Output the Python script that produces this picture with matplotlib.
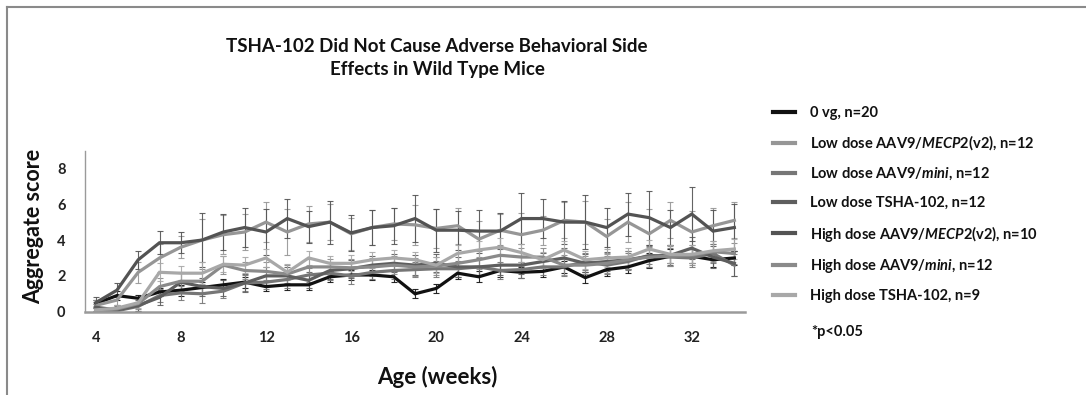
import matplotlib
matplotlib.use("Agg")
import matplotlib.pyplot as plt
from matplotlib.lines import Line2D

plt.rcParams['font.family'] = ['Lato', 'DejaVu Sans']
plt.rcParams['font.weight'] = 'bold'
plt.rcParams['mathtext.fontset'] = 'custom'
plt.rcParams['mathtext.rm'] = 'Lato:bold'
plt.rcParams['mathtext.it'] = 'Lato:bold:italic'

weeks = list(range(4, 35))
x_ticks = [4, 8, 12, 16, 20, 24, 28, 32]
y_ticks = [0, 2, 4, 6, 8]

labels = [
    "0 vg, n=20",
    r"Low dose AAV9/$\mathit{MECP2}$(v2), n=12",
    r"Low dose AAV9/$\mathit{mini}$, n=12",
    "Low dose TSHA-102, n=12",
    r"High dose AAV9/$\mathit{MECP2}$(v2), n=10",
    r"High dose AAV9/$\mathit{mini}$, n=12",
    "High dose TSHA-102, n=9",
]

zero_vg = [0.45, 0.9, 0.75, 1.1, 1.2, 1.35, 1.5, 1.65, 1.4, 1.5, 1.5,
           1.95, 2.05, 2.05, 1.95, 1.0, 1.3, 2.15, 1.95, 2.3, 2.2,
           2.25, 2.5, 1.9, 2.35, 2.5, 2.85, 3.1, 3.1, 2.9, 3.0]
low_mecp2 = [0.35, 0.65, 2.2, 3.0, 3.6, 4.0, 4.3, 4.45, 5.0, 4.45, 4.9,
             5.0, 4.35, 4.7, 4.9, 4.85, 4.65, 4.8, 4.05, 4.55, 4.3,
             4.55, 5.1, 5.0, 4.2, 5.0, 4.35, 5.1, 4.45, 4.8, 5.1]
low_mini = [0.1, 0.05, 0.3, 0.9, 1.05, 1.0, 1.15, 1.6, 1.65, 1.8, 2.05,
            2.15, 2.0, 2.2, 2.3, 2.35, 2.4, 2.4, 2.5, 2.3, 2.35,
            2.5, 2.5, 2.8, 2.6, 2.8, 3.15, 3.05, 3.0, 3.25, 2.6]
low_tsha = [0.25, 0.1, 0.35, 0.8, 1.65, 1.4, 1.3, 1.6, 2.0, 2.0, 1.75,
            2.3, 2.4, 2.6, 2.7, 2.6, 2.7, 2.5, 2.5, 2.6, 2.6,
            2.8, 3.0, 2.7, 2.8, 2.9, 3.1, 3.15, 3.55, 3.05, 2.7]
high_mecp2 = [0.5, 1.2, 2.9, 3.85, 3.85, 4.0, 4.45, 4.7, 4.45, 5.2, 4.75,
              5.0, 4.4, 4.7, 4.8, 5.2, 4.55, 4.55, 4.5, 4.5, 5.2,
              5.2, 5.0, 5.0, 4.7, 5.45, 5.25, 4.7, 5.45, 4.5, 4.7]
high_mini = [0.05, 0.15, 0.45, 1.4, 1.7, 1.7, 2.6, 2.3, 2.25, 2.1, 2.5,
             2.5, 2.45, 2.5, 2.6, 2.5, 2.55, 2.7, 2.9, 3.15, 3.05,
             3.05, 2.6, 2.6, 2.7, 2.9, 3.05, 3.1, 3.15, 3.35, 3.25]
high_tsha = [0.1, 0.2, 0.5, 2.2, 2.15, 2.15, 2.65, 2.6, 3.0, 2.2, 3.0,
             2.7, 2.7, 2.9, 3.0, 2.9, 2.6, 3.25, 3.45, 3.6, 3.3,
             2.9, 3.45, 2.9, 3.0, 3.05, 3.5, 3.2, 3.2, 3.4, 3.5]

zero_vg_err = [0.2, 0.25, 0.2, 0.25, 0.3, 0.3, 0.3, 0.3, 0.25, 0.3, 0.3,
               0.3, 0.3, 0.3, 0.3, 0.25, 0.25, 0.35, 0.3, 0.35, 0.3,
               0.3, 0.35, 0.3, 0.35, 0.35, 0.4, 0.4, 0.4, 0.4, 0.4]
low_mecp2_err = [0.3, 0.3, 0.6, 0.8, 0.6, 1.2, 1.1, 1.0, 1.1, 1.3, 1.0,
                 1.0, 0.9, 1.0, 0.9, 1.1, 1.1, 1.0, 1.0, 0.9, 1.2,
                 0.8, 1.0, 1.2, 1.0, 1.1, 1.4, 1.0, 1.2, 1.0, 1.0]
low_mini_err = [0.2, 0.2, 0.25, 0.35, 0.4, 0.5, 0.4, 0.45, 0.4, 0.45, 0.4,
                0.4, 0.45, 0.4, 0.45, 0.4, 0.45, 0.45, 0.45, 0.5, 0.45,
                0.45, 0.5, 0.45, 0.5, 0.45, 0.5, 0.5, 0.5, 0.55, 0.6]
low_tsha_err = [0.2, 0.2, 0.3, 0.4, 0.5, 0.5, 0.45, 0.5, 0.5, 0.5, 0.45,
                0.45, 0.5, 0.5, 0.5, 0.55, 0.5, 0.55, 0.5, 0.55, 0.5,
                0.5, 0.55, 0.5, 0.55, 0.5, 0.6, 0.55, 0.6, 0.6, 0.7]
high_mecp2_err = [0.3, 0.4, 0.5, 0.65, 0.6, 1.5, 1.0, 1.1, 1.3, 1.1, 0.9,
                  1.2, 1.0, 1.0, 1.0, 1.3, 1.2, 1.1, 1.2, 1.0, 1.4,
                  1.1, 1.2, 1.5, 1.1, 1.2, 1.5, 1.0, 1.5, 1.2, 1.3]
high_mini_err = [0.15, 0.2, 0.3, 0.5, 0.5, 0.7, 0.5, 0.5, 0.5, 0.5, 0.45,
                 0.45, 0.5, 0.5, 0.5, 0.5, 0.5, 0.55, 0.5, 0.55, 0.5,
                 0.5, 0.55, 0.5, 0.55, 0.5, 0.55, 0.55, 0.55, 0.6, 0.6]
high_tsha_err = [0.15, 0.2, 0.3, 0.5, 0.4, 0.6, 0.45, 0.45, 0.5, 0.45, 0.4,
                 0.4, 0.45, 0.45, 0.45, 0.45, 0.45, 0.5, 0.5, 0.5, 0.5,
                 0.45, 0.5, 0.5, 0.5, 0.5, 0.5, 0.5, 0.5, 0.55, 0.55]

series = [zero_vg, low_mecp2, low_mini, low_tsha, high_mecp2, high_mini, high_tsha]
errors = [zero_vg_err, low_mecp2_err, low_mini_err, low_tsha_err,
          high_mecp2_err, high_mini_err, high_tsha_err]
colors = ['#111111', '#969696', '#767676', '#5e5e5e', '#535353', '#8a8a8a', '#a8a8a8']

W, H = 1086, 395
fig = plt.figure(figsize=(W / 100, H / 100), dpi=100)
ax = fig.add_axes([85 / W, 1 - 311.7 / H, (745 - 85) / W, (311.7 - 150.5) / H])

for vals, err, col in zip(series, errors, colors):
    ax.errorbar(weeks, vals, yerr=err, fmt='none', ecolor=col, elinewidth=0.8,
                capsize=2.2, capthick=0.8, alpha=0.9)
for vals, col in zip(series, colors):
    ax.plot(weeks, vals, color=col, lw=2.3, solid_joinstyle='miter')

ax.set_xlim(3.5, 34.5)
ax.set_ylim(0, 9)
ax.set_xticks(x_ticks)
ax.set_xticklabels([str(t) for t in x_ticks])
ax.set_yticks(y_ticks)
ax.set_yticklabels([str(t) for t in y_ticks])
ax.tick_params(axis='both', length=0, labelsize=10.5, colors='#222222')
ax.tick_params(axis='x', pad=14)
ax.tick_params(axis='y', pad=14)
for lab in ax.get_xticklabels() + ax.get_yticklabels():
    lab.set_fontweight('bold')
for s in ['top', 'right']:
    ax.spines[s].set_visible(False)
ax.spines['bottom'].set_color('#9a9a9a')
ax.spines['bottom'].set_linewidth(1.8)
ax.spines['left'].set_color('#9a9a9a')
ax.spines['left'].set_linewidth(1.0)

fig.text(34 / W, 1 - 226 / H, "Aggregate score", fontsize=15.5, fontweight='bold',
         rotation=90, ha='center', va='center', color='#111111')
fig.text(437 / W, 1 - 377 / H, "Age (weeks)", fontsize=16, fontweight='bold',
         ha='center', va='center', color='#111111')

fig.text(437 / W, 1 - 58 / H, "TSHA-102 Did Not Cause Adverse Behavioral Side\nEffects in Wild Type Mice",
         fontsize=13.5, fontweight='bold', ha='center', va='center', linespacing=1.45,
         color='#111111')

handles = [Line2D([0], [0], color=c, lw=3) for c in colors]
leg = fig.legend(handles, labels, loc='upper left', bbox_to_anchor=(773 / W, 1 - 106 / H),
                 frameon=False, fontsize=10.5, handlelength=1.5, handletextpad=1.05,
                 labelspacing=0.93, borderpad=0, borderaxespad=0)
for t in leg.get_texts():
    t.set_fontweight('bold')
    t.set_color('#111111')

fig.text(811 / W, 1 - 332 / H, "*p<0.05", fontsize=10.5, fontweight='bold',
         ha='left', va='center', color='#111111')

# outer frame (top and left edges visible)
fig.add_artist(Line2D([7 / W, 1], [1 - 7 / H, 1 - 7 / H], transform=fig.transFigure,
                      color='#8a8a8a', lw=1.5))
fig.add_artist(Line2D([7 / W, 7 / W], [0, 1 - 7 / H], transform=fig.transFigure,
                      color='#8a8a8a', lw=1.5))

fig.savefig("out.png", dpi=100)
